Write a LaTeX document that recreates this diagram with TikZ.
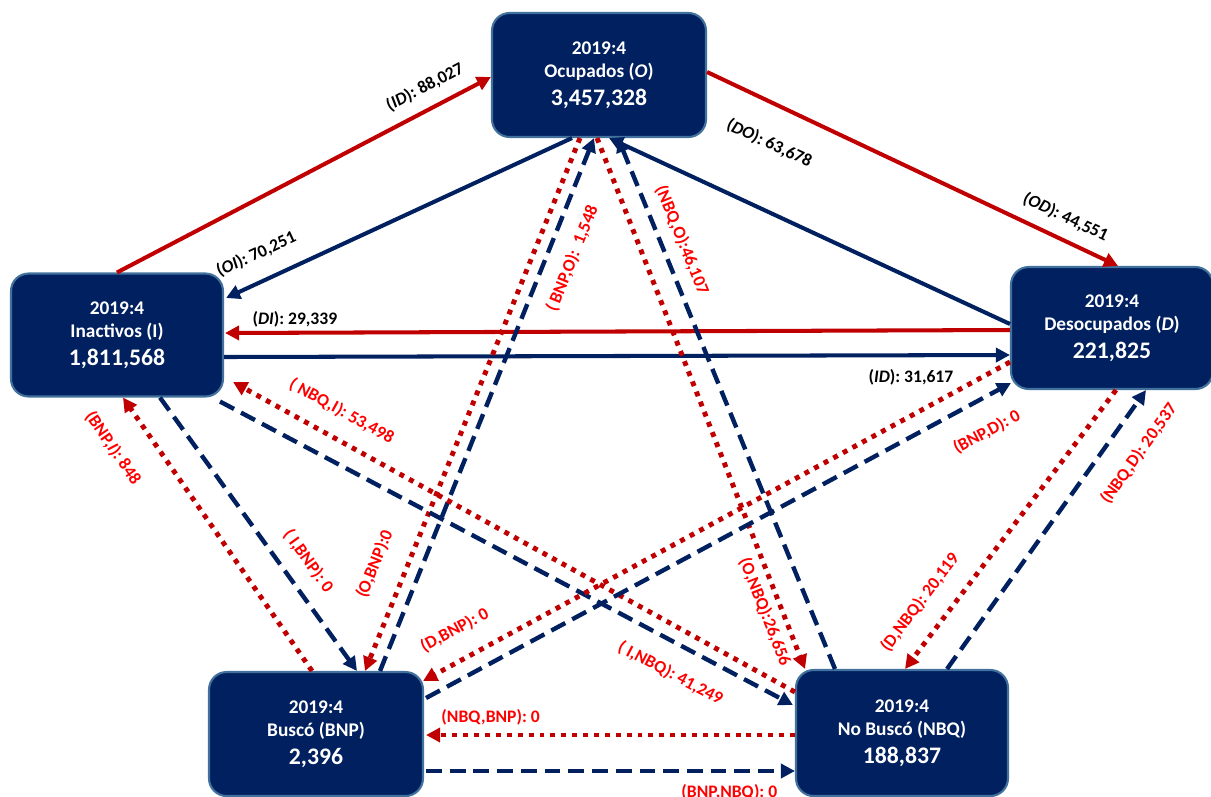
\documentclass[tikz,border=0pt]{standalone}
\usepackage{fontspec}
\setmainfont{Carlito}
\usetikzlibrary{
  calc,
  arrows.meta
}
\definecolor{navy}{RGB}{0,32,96}
\definecolor{boxline}{RGB}{65,113,156}
\definecolor{reddish}{RGB}{192,0,0}
\definecolor{redtext}{RGB}{255,0,0}
\newcommand{\bignum}[1]{{\fontsize{13.5}{16}\selectfont #1}}

\begin{document}
\begin{tikzpicture}[
  x=0.02cm,
  y=-0.02cm,
  state/.style={
    draw=boxline,
    line width=1.2pt,
    fill=navy,
    rounded corners=10pt,
    text=white,
    font=\bfseries\fontsize{11}{13.2}\selectfont,
    align=center,
    inner sep=0pt
  },
  solidred/.style={
    draw=reddish,
    line width=2.3pt,
    ->
  },
  solidblue/.style={
    draw=navy,
    line width=2.3pt,
    ->
  },
  dashblue/.style={
    draw=navy,
    line width=2.5pt,
    dash pattern=on 9pt off 4.5pt,
    ->
  },
  dotred/.style={
    draw=reddish,
    line width=2.8pt,
    dash pattern=on 2.8pt off 3.4pt,
    ->
  },
  lab/.style={
    font=\bfseries\fontsize{10}{12}\selectfont,
    text=black,
    inner sep=1pt
  },
  redlab/.style={
    lab,
    text=redtext
  },
  >={Triangle[length=8pt,width=8pt]}
]

\useasboundingbox (0,0) rectangle (1211,796);

% States
\node[state, minimum width=4.28cm, minimum height=2.48cm] (O) at (599,75)
  {2019:4\\Ocupados (\textit{O})\\[2.5pt]\bignum{3,457,328}};
\node[state, minimum width=4.24cm, minimum height=2.46cm] (I) at (117,335)
  {2019:4\\Inactivos (I)\\[2.5pt]\bignum{1,811,568}};
\node[state, minimum width=4.04cm, minimum height=2.44cm] (D) at (1112,328)
  {2019:4\\Desocupados (\textit{D})\\[2.5pt]\bignum{221,825}};
\node[state, minimum width=4.28cm, minimum height=2.48cm] (BNP) at (316,734)
  {2019:4\\Buscó (BNP)\\[2.5pt]\bignum{2,396}};
\node[state, minimum width=4.24cm, minimum height=2.52cm] (NBQ) at (902,733)
  {2019:4\\No Buscó (NBQ)\\[2.5pt]\bignum{188,837}};

% Solid flows
\draw[solidred] (I.north) --
  node[lab, sloped, pos=0.85, above=5.7pt] (lID) {(\textit{ID}): 88,027}
  ($(O.west)+(0,2)$);
\draw[solidblue] ($(O.south)+(-27,0)$) --
  node[lab, sloped, pos=0.88, above=8.7pt] (lOI) {(\textit{OI}): 70,251}
  ($(I.east)+(2,-37)$);
\draw[solidred] ($(O.east)+(0,-3)$) --
  node[lab, sloped, pos=0.85, above=5.7pt] (lOD) {(\textit{OD}): 44,551}
  ($(D.north)+(6,0)$);
\draw[solidblue] ($(D.west)+(0,-4)$) --
  node[lab, sloped, pos=0.666, above=29pt] (lDO) {(\textit{DO}): 63,678}
  ($(O.south)+(10,0)$);
\draw[solidred] ($(D.west)+(0,2)$) --
  node[lab, pos=0.911, above=1.2pt] (lDI) {(\textit{DI}): 29,339}
  ($(I.east)+(1,-2)$);
\draw[solidblue] ($(I.east)+(0,22)$) --
  node[lab, pos=0.874, below=5.9pt] (lIDb) {(\textit{ID}): 31,617}
  ($(D.west)+(0,27)$);

% O and BNP
\draw[dashblue] ($(BNP.north)+(64,0)$) --
  node[redlab, sloped, pos=0.791, below=7.4pt] (lBNPO) {( BNP,O):\ \ 1,548}
  ($(O.south)+(-5,0)$);
\draw[dotred] ($(O.south)+(-19,0)$) --
  node[redlab, sloped, pos=0.821, above=10.8pt] (lOBNP) {(O,BNP):0}
  ($(BNP.north)+(49,0)$);

% O and NBQ
\draw[dotred] ($(O.south)+(-2,0)$) --
  node[redlab, sloped, pos=0.881, below=2.5pt] (lONBQ) {(O,NBQ):26,656}
  ($(NBQ.north)+(-97,0)$);
\draw[dashblue] ($(NBQ.north)+(-67,0)$) --
  node[redlab, sloped, pos=0.793, above=5pt] (lNBQO) {(NBQ,O):46,107}
  ($(O.south)+(19,0)$);

% I and BNP
\draw[dotred] ($(BNP.north)+(-4,0)$) --
  node[redlab, sloped, pos=0.892, below=14.2pt] (lBNPI) {(BNP,\textit{I}): 848}
  ($(I.south)+(6,0)$);
\draw[dashblue] ($(I.south)+(43,0)$) --
  node[redlab, sloped, pos=0.651, above=7.3pt] (lIBNP) {( I,BNP): 0}
  ($(BNP.north)+(41,0)$);

% I and NBQ
\draw[dotred] ($(NBQ.west)+(0,-41)$) --
  node[redlab, sloped, pos=0.83, above=8.5pt] (lNBQI) {( NBQ,I): 53,498}
  ($(I.east)+(9,47)$);
\draw[dashblue] ($(I.south east)+(-4,4)$) --
  node[redlab, sloped, pos=0.81, below=9.9pt] (lINBQ) {( I,NBQ): 41,249}
  ($(NBQ.west)+(-2,-28)$);

% D and BNP
\draw[dotred] ($(D.west)+(0,34)$) --
  node[redlab, sloped, pos=0.922, above=9.9pt] (lDBNP) {(D,BNP): 0}
  ($(BNP.north east)+(-1,10)$);
\draw[dashblue] ($(BNP.east)+(2,-36)$) --
  node[redlab, sloped, pos=0.933, below=11.3pt] (lBNPD) {(BNP,D): 0}
  ($(D.south west)+(1,-7)$);

% D and NBQ
\draw[dotred] ($(D.south)+(4,0)$) --
  node[redlab, sloped, pos=0.822, above=9.2pt] (lDNBQ) {(D,NBQ): 20,119}
  ($(NBQ.north)+(3,0)$);
\draw[dashblue] ($(NBQ.north)+(45,0)$) --
  node[redlab, sloped, pos=0.837, below=11pt] (lNBQD) {(NBQ,D): 20,537}
  ($(D.south)+(34,0)$);

% BNP and NBQ
\draw[dotred] ($(NBQ.west)+(0,2)$) --
  node[redlab, pos=0.825, above=3.1pt] (lNBQBNP) {(NBQ,BNP): 0}
  ($(BNP.east)+(2,1)$);
\draw[dashblue] ($(BNP.east)+(2,37)$) --
  node[redlab, pos=0.822, below=5.3pt] (lBNPNBQ) {(BNP,NBQ): 0}
  ($(NBQ.west)+(0,38)$);

\end{tikzpicture}
\end{document}
